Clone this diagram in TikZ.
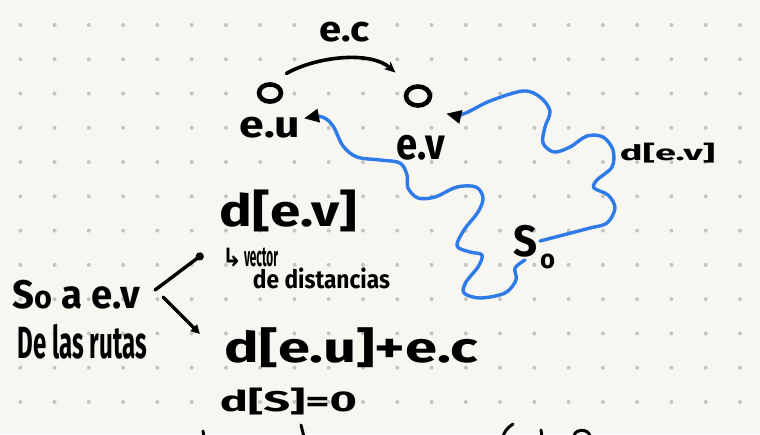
\documentclass[tikz,border=0pt]{standalone}
\usepackage{fontspec}
\setmainfont{Fira Sans}
\newfontfamily\symfont{DejaVu Sans}
\usetikzlibrary{arrows.meta,shapes.geometric}
\definecolor{paper}{RGB}{247,246,241}
\definecolor{griddot}{RGB}{196,196,196}
\definecolor{inkblue}{RGB}{46,123,232}
\newcommand\hw[3]{\resizebox*{#1pt}{#2pt}{\bfseries #3}}
\begin{document}
\begin{tikzpicture}[x=1pt,y=-1pt,
  lbl/.style={inner sep=0pt,outer sep=0pt,text=black},
  vertex/.style={ellipse,draw=none,inner sep=0pt},
  ring/.style={draw=black,line width=4.6pt},
  ink/.style={draw=black,line width=3.6pt,line cap=round,line join=round},
  blueline/.style={draw=inkblue,line width=3.4pt,line cap=round,line join=round},
  frag/.style={draw=black,line width=3pt,line cap=round}
]
\fill[paper] (0,0) rectangle (760,434);
\useasboundingbox (0,0) rectangle (760,434);
\foreach \i in {0,...,21}{\foreach \j in {0,...,11}{\fill[griddot] (20.3+34.27*\i, 25+34.27*\j) circle[radius=2pt];}}

% vertices
\node[vertex,minimum width=22pt,minimum height=17pt,outer sep=16pt] (u) at (270,93) {};
\node[vertex,minimum width=24pt,minimum height=19pt,outer sep=22pt] (v) at (418,96) {};
\draw[ring] (u.center) ellipse [x radius=11pt, y radius=8.6pt];
\draw[ring] (v.center) ellipse [x radius=12pt, y radius=9.5pt];

% labels
\node[lbl] (ec) at (345,32) {\hw{50}{20}{e.c}};
\node[lbl,outer sep=4pt] (eu) at (270,127.5) {\hw{60}{21}{e.u}};
\node[lbl] (ev) at (421,147.5) {\hw{48}{25}{e.v}};
\node[lbl] (devr) at (667.5,153) {\hw{95}{20}{d[e.v]}};
\node[lbl] (dev) at (288.5,211) {\hw{137}{42}{d[e.v]}};
\node[lbl] (vec) at (250,258) {\resizebox*{20pt}{19pt}{\symfont\bfseries ↳}\hspace{2pt}\hw{34}{19}{vector}};
\node[lbl] (dist) at (321.5,278.5) {\hw{137}{21}{de distancias}};
\node[lbl] (sa) at (76.5,294.5) {\hw{127}{29}{S{\footnotesize o} a e.v}};
\node[lbl] (rutas) at (82.5,341.5) {\hw{129}{35}{De las rutas}};
\node[lbl] (deu) at (351.5,348) {\hw{253}{40}{d[e.u]+e.c}};
\node[lbl] (ds) at (288.5,401.5) {\hw{137}{27}{d[S]=0}};
\node[lbl,outer sep=3pt] (s0) at (525,241) {\hw{24}{32}{S}};
\node[lbl] (s0sub) at (547.5,261.5) {\hw{15}{15}{o}};

% edge e.c
\draw[ink,-{Stealth[length=11pt,width=10pt]}] (u.50) .. controls (315,57) and (370,50) .. (v.134);

% blue paths
\draw[blueline,{Triangle[length=15pt,width=13pt,color=black,fill=black]}-] plot[smooth,tension=0.55] coordinates {
 (eu.15) (322,117) (333,126) (343,146) (357,157) (380,160) (400,163) (407,175) (408,188)
 (418,198) (435,197) (457,187) (476,187) (483,198) (478,212) (464,230) (457,246)
 (470,252) (482,255) (478,267) (466,282) (464,293) (480,298) (505,293) (516,280)
 (515,268) (s0.south)};
\draw[blueline,{Triangle[length=15pt,width=13pt,color=black,fill=black]}-] plot[smooth,tension=0.55] coordinates {
 (v.-32) (463,114) (490,101) (523,91) (540,97) (550,111) (545,127) (543,143) (554,152)
 (570,147) (587,136) (603,137) (613,150) (612,167) (597,180) (594,188) (608,195)
 (615,208) (607,223) (590,228) (567,234) (s0.east)};

% left arrows
\draw[ink,line width=3.4pt,-{Circle[length=8pt]}] ([shift={(15,-4.5)}]sa.east) -- ([shift={(-17,22)}]dev.south west);
\draw[ink,line width=3.4pt,-{Triangle[length=9pt,width=9pt]}] ([shift={(23,2.5)}]sa.east) -- ([shift={(-25,-14)}]deu.west);

% fragments of the next line, cut off at the bottom edge
\draw[frag] (203,431) -- (204,437);
\draw[frag] (301,425) -- (304,437);
\draw[frag] (513,424) .. controls (507,428) and (504,432) .. (503,437);
\draw[frag] (541,430) -- (542,437);
\draw[frag] (574,436) .. controls (575,429) and (588,428) .. (590,436);
\end{tikzpicture}
\end{document}
